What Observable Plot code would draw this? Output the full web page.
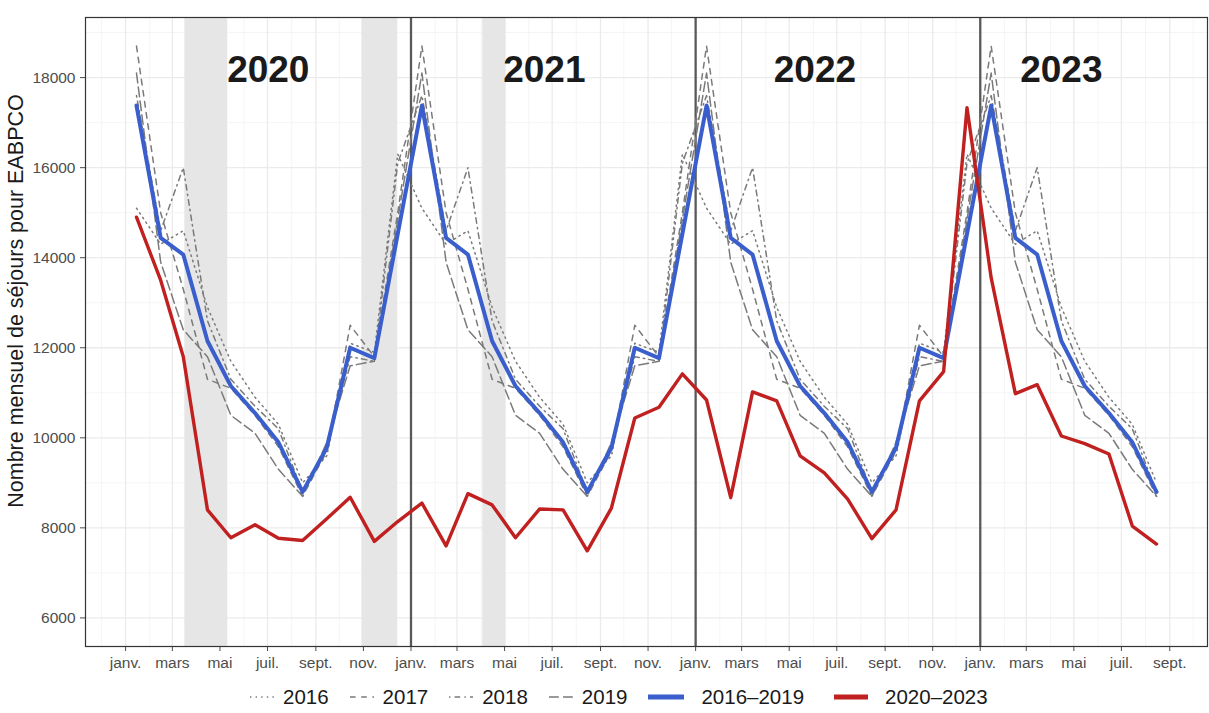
<!DOCTYPE html>
<html><head><meta charset="utf-8">
<script src="https://cdn.jsdelivr.net/npm/d3@7"></script>
<script src="https://cdn.jsdelivr.net/npm/@observablehq/plot@0.6"></script>
<style>
body{margin:0;background:#fff;font-family:"Liberation Sans",Arial,sans-serif;}
#legend{display:flex;align-items:center;height:44px;padding-left:250px;font-size:20.5px;color:#1a1a1a;}
.item{display:flex;align-items:center;}
.item svg{display:block;}
</style></head><body><div id="chart"></div><div id="legend"></div>
<script>
// ---- data ----
const monthLabels = ["janv.","févr.","mars","avr.","mai","juin","juil.","août","sept.","oct.","nov.","déc."];
const displayYears = [2020, 2021, 2022, 2023];
const lastMonth2023 = 7; // August
const refNames = ["2016", "2017", "2018", "2019"];
const s2016 = [15100,14300,14600,12900,11700,10900,10300,9000,9600,12100,11900,16300];
const s2017 = [18700,15000,13300,11300,11100,10500,9800,8700,9700,12500,11800,15000];
const s2018 = [17600,14600,16000,12600,11300,10700,10200,8800,9800,11800,11700,16100];
const s2019 = [18100,13900,12400,11800,10500,10100,9300,8700,9900,11600,11700,null];
const mean1619 = [17380,14440,14070,12150,11150,10550,9900,8800,9780,12000,11770,null];
const obs20202023 = [
  14900,13500,11800,8400,7780,8070,7770,7720,8200,8680,7700,8140,
  8550,7600,8760,8510,7780,8420,8400,7490,8440,10440,10680,11420,
  10840,8670,11020,10820,9600,9220,8640,7760,8400,10820,11470,17330,
  13550,10980,11180,10040,9870,9640,8040,7640];
const lockdownStart = ["2020-03-17", "2020-10-30", "2021-04-03"];
const lockdownEnd   = ["2020-05-11", "2020-12-15", "2021-05-03"];
const yearLabels = ["2020", "2021", "2022", "2023"];
const yearLabelDates = ["2020-07-02", "2021-06-21", "2022-06-03", "2023-04-15"];
const yTickValues = [6000, 8000, 10000, 12000, 14000, 16000, 18000];
const yTitle = "Nombre mensuel de séjours pour EABPCO";

// ---- build tables ----
const mid = (y, m) => new Date(Date.UTC(y, m, 15));
const refSeries = [s2016, s2017, s2018, s2019];
const refRows = [];
const meanRows = [];
const obsRows = [];
displayYears.forEach((yr, yi) => {
  for (let m = 0; m < 12; m++) {
    if (yr === 2023 && m > lastMonth2023) continue;
    refSeries.forEach((s, k) => { if (s[m] != null) refRows.push({series: refNames[k], date: mid(yr, m), value: s[m]}); });
    if (mean1619[m] != null) meanRows.push({date: mid(yr, m), value: mean1619[m]});
    const v = obs20202023[yi * 12 + m];
    if (v != null) obsRows.push({date: mid(yr, m), value: v});
  }
});
const lockdowns = lockdownStart.map((s, i) => ({x1: new Date(s), x2: new Date(lockdownEnd[i])}));
const yearStarts = displayYears.slice(1).map(y => new Date(Date.UTC(y, 0, 1)));

const first = Date.UTC(2020, 0, 15), last = Date.UTC(2023, lastMonth2023, 15);
const xpad = (last - first) * 0.05;
const allVals = [...refRows, ...meanRows, ...obsRows].map(d => d.value);
const yLow = 6000, yHigh = d3.max(allVals);
const ypad = (yHigh - yLow) * 0.05;
const xDomain = [new Date(first - xpad), new Date(last + xpad)];

const monthStarts = [];
for (let y = 2019; y <= 2023; y++) for (let m = 0; m < 12; m++) {
  const d = new Date(Date.UTC(y, m, 1));
  if (d >= xDomain[0] && d <= xDomain[1]) monthStarts.push(d);
}
const majorX = monthStarts.filter(d => d.getUTCMonth() % 2 === 0);
const minorX = monthStarts.filter(d => d.getUTCMonth() % 2 === 1);
const majorY = d3.range(6000, 20000, 2000);
const minorY = d3.range(7000, 20000, 2000).filter(v => v < yHigh + ypad);

const dashes = {"2016": "1.4,4.2", "2017": "5.6,5.6", "2018": "1.4,4.2,5.6,4.2", "2019": "9.8,4.2"};
const GREY = "#7a7a7a", BLUE = "#3a5fcd", RED = "#c0201f";

const chart = Plot.plot({
  width: 1209,
  height: 675,
  marginLeft: 85,
  marginRight: 2,
  marginTop: 17,
  marginBottom: 29,
  style: {fontSize: "15.5px", fontFamily: "'Liberation Sans', Arial, sans-serif", color: "#4d4d4d", background: "#fff"},
  x: {type: "utc", domain: xDomain, ticks: majorX, tickFormat: d => monthLabels[d.getUTCMonth()], tickSize: 5, tickPadding: 5, label: null},
  y: {domain: [yLow - ypad, yHigh + ypad], ticks: yTickValues, tickFormat: d => String(d), tickSize: 5, tickPadding: 5, label: null},
  marks: [
    Plot.ruleY(minorY, {stroke: "#f2f2f2", strokeWidth: 0.8}),
    Plot.ruleX(minorX, {stroke: "#f2f2f2", strokeWidth: 0.8}),
    Plot.ruleY(majorY, {stroke: "#ebebeb", strokeWidth: 1.3}),
    Plot.ruleX(majorX, {stroke: "#ebebeb", strokeWidth: 1.3}),
    Plot.rect(lockdowns, {x1: "x1", x2: "x2", fill: "#e6e6e6"}),
    Plot.ruleX(yearStarts, {stroke: "#595959", strokeWidth: 2.3}),
    ...refNames.map(n => Plot.line(refRows.filter(d => d.series === n), {x: "date", y: "value", stroke: GREY, strokeWidth: 1.5, strokeDasharray: dashes[n]})),
    Plot.line(meanRows, {x: "date", y: "value", stroke: BLUE, strokeWidth: 4}),
    Plot.line(obsRows, {x: "date", y: "value", stroke: RED, strokeWidth: 3.4}),
    Plot.text(yearLabels, {x: (d, i) => new Date(yearLabelDates[i]), y: () => 18155, text: d => d, fontSize: 37, fontWeight: "bold", fill: "#1a1a1a"}),
    Plot.text([yTitle], {frameAnchor: "left", textAnchor: "middle", dx: -69, dy: -31, rotate: -90, fontSize: 21.5, fill: "#1a1a1a"}),
    Plot.frame({stroke: "#333", strokeWidth: 1.2})
  ]
});
document.getElementById("chart").appendChild(chart);

// ---- legend ----
const legendItems = [
  ...refNames.map(n => ({label: n, color: GREY, width: 1.5, dash: dashes[n], sw: 24, gap: 9, after: 21})),
  {label: "2016–2019", color: BLUE, width: 5, dash: null, sw: 36, gap: 17, after: 30},
  {label: "2020–2023", color: RED, width: 5, dash: null, sw: 34, gap: 17, after: 0}
];
const legend = document.getElementById("legend");
legendItems.forEach(it => {
  const div = document.createElement("div");
  div.className = "item";
  div.style.marginRight = it.after + "px";
  div.innerHTML = `<svg width="${it.sw}" height="14"><line x1="0" x2="${it.sw}" y1="7" y2="7" stroke="${it.color}" stroke-width="${it.width}" ${it.dash ? `stroke-dasharray="${it.dash}"` : ""}/></svg><span style="margin-left:${it.gap}px">${it.label}</span>`;
  legend.appendChild(div);
});
</script></body></html>
